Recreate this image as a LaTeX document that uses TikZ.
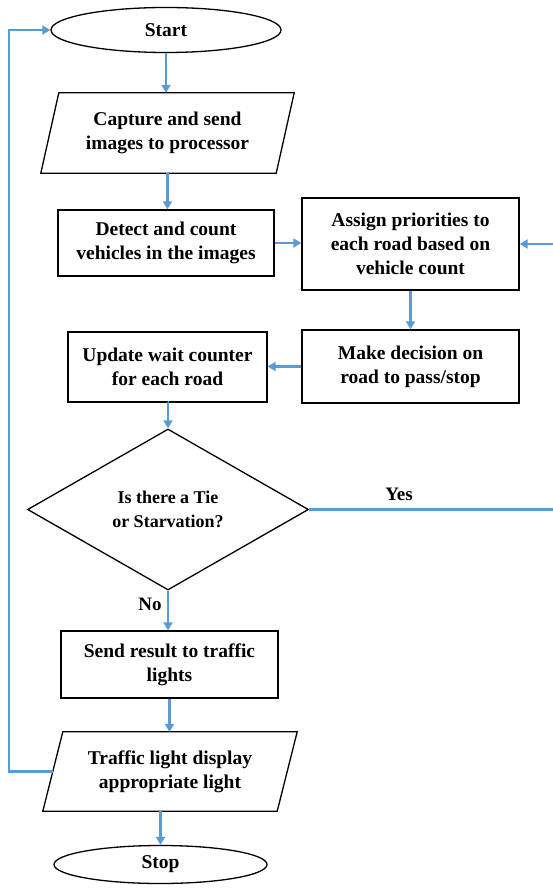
\documentclass[tikz,border=0pt]{standalone}
\usepackage{fontspec}
\setmainfont{Liberation Serif}
\usetikzlibrary{shapes.geometric,arrows.meta,calc}
\definecolor{flowblue}{RGB}{91,155,213}

\begin{document}
\begin{tikzpicture}[x=1pt,y=-1pt,
  txt/.style={font=\fontsize{19.5}{24}\selectfont\bfseries, align=center},
  term/.style={ellipse, draw=black, line width=1.3pt, inner sep=0pt, txt},
  procbox/.style={rectangle, draw=black, line width=1.3pt, inner sep=0pt, txt},
  iobox/.style={rectangle, inner sep=0pt, txt},
  iooutline/.style={draw=black, line width=1.3pt, line join=miter},
  decide/.style={diamond, aspect=1.75, draw=black, line width=1.3pt, inner sep=0pt,
    font=\fontsize{18}{23.6}\selectfont\bfseries, align=center},
  flow/.style={draw=flowblue, line width=2.4pt, -{Triangle[length=8pt,width=9pt]}},
  link/.style={draw=flowblue, line width=2.4pt},
  lbl/.style={fill=white, inner sep=3pt, font=\fontsize{19}{23}\selectfont\bfseries}
]
\useasboundingbox (0,0) rectangle (553,890);

% terminals
\node[term, minimum width=230pt, minimum height=45pt] (start) at (166,30) {Start};
\node[term, minimum width=213pt, minimum height=38pt] (stop) at (160.5,864.5) {Stop};

% input / output (parallelograms drawn around plain nodes)
\node[iobox, minimum width=235pt, minimum height=80pt] (cap) at (167.5,133)
  {Capture and send\\images to processor};
\draw[iooutline] ($(cap.north west)+(9,0)$) -- ($(cap.north east)+(9,0)$)
  -- ($(cap.south east)+(-9,0)$) -- ($(cap.south west)+(-9,0)$) -- cycle;

\node[iobox, minimum width=234pt, minimum height=79pt] (trf) at (170,771.5)
  {Traffic light display\\appropriate light};
\draw[iooutline] ($(trf.north west)+(10,0)$) -- ($(trf.north east)+(10,0)$)
  -- ($(trf.south east)+(-10,0)$) -- ($(trf.south west)+(-10,0)$) -- cycle;

% processes
\node[procbox, minimum width=216pt, minimum height=66pt] (det) at (166,243)
  {Detect and count\\vehicles in the images};
\node[procbox, minimum width=217pt, minimum height=92pt] (asg) at (410.5,244)
  {Assign priorities to\\each road based on\\vehicle count};
\node[procbox, minimum width=217pt, minimum height=73pt] (mk) at (410.5,366.5)
  {Make decision on\\road to pass/stop};
\node[procbox, minimum width=199pt, minimum height=70pt] (upd) at (167.5,367)
  {Update wait counter\\for each road};
\node[procbox, minimum width=217pt, minimum height=67pt] (snd) at (169.5,664.5)
  {Send result to traffic\\lights};

% decision
\node[decide, minimum width=281pt, minimum height=161pt] (dia) at (168,509.5)
  {Is there a Tie\\or Starvation?};

% branch labels
\node[lbl] (yes) at (399,494) {Yes};
\node[lbl] (no) at (150,604) {No};

% connectors
\draw[flow] (start.south) -- (start.south |- cap.north);
\draw[flow] (cap.south) -- (cap.south |- det.north);
\draw[flow] (det.east) -- (det.east -| asg.west);
\draw[flow] (asg.south) -- (asg.south |- mk.north);
\draw[flow] (mk.west) -- (mk.west -| upd.east);
\draw[flow] (upd.south) -- (upd.south -| dia.north) -- (dia.north);
\draw[flow] (dia.south) -- (dia.south |- snd.north);
\draw[flow] (snd.south) -- (snd.south |- trf.north);
\draw[flow] (stop.north |- trf.south) -- (stop.north);
\coordinate (rightrail) at (556,509.5);
\draw[flow] (dia.east) -- (rightrail) |- (asg.east);
\coordinate (leftrail) at (9,771.5);
\draw[flow] (trf.west) -- (leftrail) |- (start.west);
\end{tikzpicture}
\end{document}
